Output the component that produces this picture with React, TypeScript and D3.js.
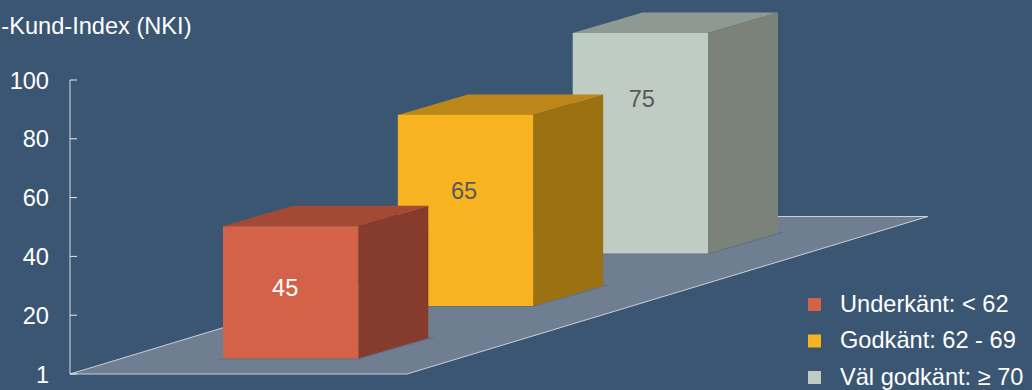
import React from "react";
import * as d3 from "d3";

const categories = ["Underkänt", "Godkänt", "Väl godkänt"];
const values = [45, 65, 75];
const frontColors = ["#D46248", "#F8B320", "#BFCCC3"];
const topColors = ["#A34A35", "#BA8718", "#8F9993"];
const sideColors = ["#853C2D", "#9C7112", "#7A8279"];
const valueColors = ["#FFFFFF", "#595959", "#595959"];
const tickValues = [0, 20, 40, 60, 80, 100];
const tickLabels = ["1", "20", "40", "60", "80", "100"];
const legendLabels = ["Underkänt: < 62", "Godkänt: 62 - 69", "Väl godkänt: ≥ 70"];
const title = "-Kund-Index (NKI)";

const W = 1032, H = 390;
const FONT = "'Liberation Sans', Arial, sans-serif";
const FS = 23.6;
const DX = 70, DY = 20.5;
const labelDX = [-5.5, -1.5, 1.5];
const labelFromTop = [69.5, 84, 74];

const y = d3.scaleLinear().domain([0, 100]).range([374, 80]);
const x = d3.scaleBand<string>().domain(categories).range([223, 708]).paddingInner(0.226).paddingOuter(0);
const base = d3.scalePoint<string>().domain(categories).range([358.5, 253.5]);
const legendY = d3.scalePoint<string>().domain(legendLabels).range([304.5, 377.5]);
const line = d3.line();
const poly = (p: [number, number][]) => line(p) + "Z";

export default function App() {
  const y0 = y(0);
  return (
    <svg width={W} height={H} viewBox={`0 0 ${W} ${H}`} style={{ position: "absolute", left: 0, top: 0, display: "block" }} fontFamily={FONT}>
      <rect width={W} height={H} fill="#3B5673" />
      <text x={191.5} y={34} textAnchor="end" fontSize={FS} fill="#FFFFFF">{title}</text>

      <path d={poly([[70, y0], [407, y0], [928, 216.5], [591, 216.5]])} fill="#6F7F91" />
      <path d={poly([[70, y0], [407, y0], [928, 216.5], [591, 216.5]])} fill="none" stroke="#C9D0D6" strokeWidth={1} />

      <line x1={70} x2={70} y1={y(100)} y2={y0} stroke="#D5DAE0" strokeWidth={1} />
      {tickValues.map((t, i) => (
        <g key={t}>
          <line x1={70} x2={77} y1={y(t)} y2={y(t)} stroke="#E8EBEF" strokeWidth={1} />
          <text x={49} y={y(t) + 8.5} textAnchor="end" fontSize={FS} fill="#FFFFFF">{tickLabels[i]}</text>
        </g>
      ))}

      {[2, 1, 0].map((i) => {
        const c = categories[i];
        const l = x(c)!;
        const r = l + x.bandwidth();
        const b = base(c)!;
        const h = y0 - y(values[i]);
        const t = b - h;
        return (
          <g key={c}>
            <path d={poly([[l - 8, b + 1], [r, b + 1], [r + DX + 7, b - DY - 0.5], [r + DX, b - DY - 1]])} fill="#2F3F50" opacity={0.2} />
            <path d={poly([[l, t], [r, t], [r + DX, t - DY], [l + DX, t - DY]])} fill={topColors[i]} />
            <path d={poly([[r, t], [r + DX, t - DY], [r + DX, b - DY], [r, b]])} fill={sideColors[i]} />
            <rect x={l} y={t} width={x.bandwidth()} height={h} fill={frontColors[i]} />
            <text x={(l + r) / 2 + labelDX[i]} y={t + labelFromTop[i]} textAnchor="middle" fontSize={FS} fill={valueColors[i]}>{values[i]}</text>
          </g>
        );
      })}

      {legendLabels.map((lab, i) => {
        const ly = legendY(lab)!;
        return (
          <g key={lab}>
            <rect x={808} y={ly - 6.5} width={13} height={13} fill={frontColors[i]} />
            <text x={840} y={ly + 7} fontSize={FS} fill="#FFFFFF">{lab}</text>
          </g>
        );
      })}
    </svg>
  );
}
